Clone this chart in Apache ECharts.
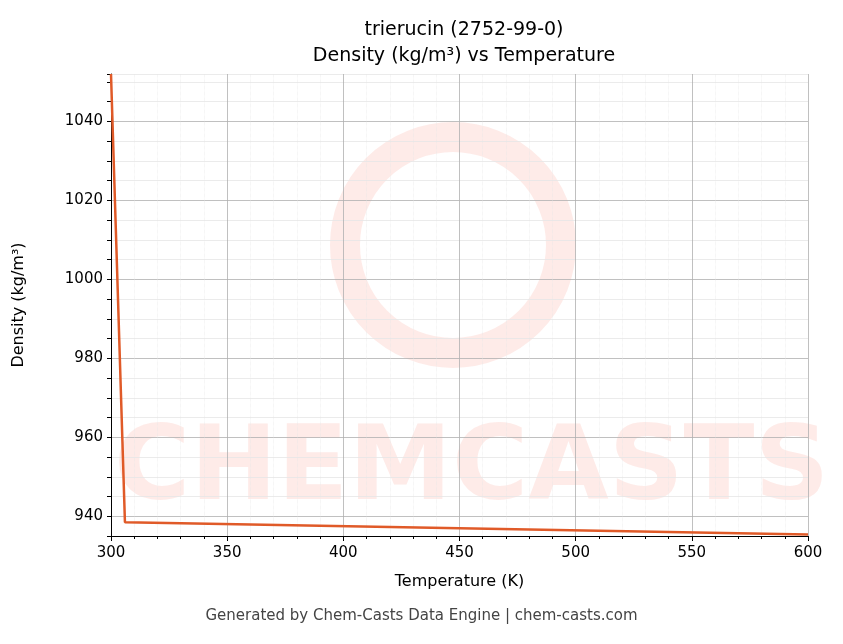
<!DOCTYPE html>
<html>
<head>
<meta charset="utf-8">
<script src="https://cdn.jsdelivr.net/npm/echarts@6/dist/echarts.min.js"></script>
<style>html,body{margin:0;padding:0;background:#fff}#main{width:843px;height:644px}</style>
</head>
<body>
<div id="main"></div>
<script>
// temperature (K) and density (kg/m³)
var temps = [300, 306, 600];
var density = [1052, 938.5, 935.4];

var font = 'DejaVu Sans';
var myChart = echarts.init(document.getElementById('main'));
var option = {
	animation: false,
	textStyle: { fontFamily: font },
	title: {
		text: 'trierucin (2752-99-0)\nDensity (kg/m³) vs Temperature',
		left: 459, top: 12, textAlign: 'center',
		textStyle: { fontFamily: font, fontSize: 19, fontWeight: 'normal', color: '#000', lineHeight: 26 }
	},
	graphic: [
		{ type: 'text', left: 'center', top: 609, style: { text: 'Generated by Chem-Casts Data Engine | chem-casts.com', font: '15px "DejaVu Sans"', fill: '#444' } },
		{ type: 'text', left: 114, top: 420, z: 0, style: { text: 'CHEMCASTS', font: 'bold 104px "DejaVu Sans"', fill: 'rgba(250,120,100,0.15)' } },
		{ type: 'circle', shape: { cx: 453, cy: 245, r: 108 }, z: 0, style: { fill: 'none', stroke: 'rgba(250,120,100,0.15)', lineWidth: 30 } }
	],
	grid: { left: 111, right: 35, top: 74, bottom: 108 },
	xAxis: {
		type: 'value', min: 300, max: 600, interval: 50,
		name: 'Temperature (K)', nameLocation: 'middle', nameGap: 38,
		nameTextStyle: { fontFamily: font, fontSize: 16, color: '#000' },
		axisLine: { lineStyle: { color: '#000' } },
		axisTick: { show: true, length: 5, lineStyle: { color: '#000' } },
		minorTick: { show: true, splitNumber: 5, length: 3, lineStyle: { color: '#000' } },
		axisLabel: { color: '#000', fontSize: 15, fontFamily: font, margin: 10 },
		splitLine: { show: true, lineStyle: { color: '#b0b0b0', width: 0.8 } },
		minorSplitLine: { show: true, lineStyle: { color: '#e6e6e6', type: 'dotted', width: 0.6 } }
	},
	yAxis: {
		type: 'value', min: 935, max: 1052, interval: 5,
		name: 'Density (kg/m³)', nameLocation: 'middle', nameGap: 84,
		nameTextStyle: { fontFamily: font, fontSize: 16, color: '#000' },
		axisLine: { show: true, lineStyle: { color: '#000' } },
		axisTick: { show: true, length: 4, lineStyle: { color: '#000' } },
		axisLabel: { color: '#000', fontSize: 15, fontFamily: font, margin: 8,
			formatter: function (v) { return (Math.round(v) % 20 === 0) ? v : ''; } },
		splitLine: { show: true, lineStyle: { color: ['#e6e6e6', '#b0b0b0', '#e6e6e6', '#e6e6e6'], width: 0.8 } }
	},
	series: [{
		type: 'line',
		data: temps.map(function (t, i) { return [t, density[i]]; }),
		showSymbol: false,
		lineStyle: { color: '#e05a28', width: 2.5 },
		clip: true
	}]
};
myChart.setOption(option);
</script>
</body>
</html>
